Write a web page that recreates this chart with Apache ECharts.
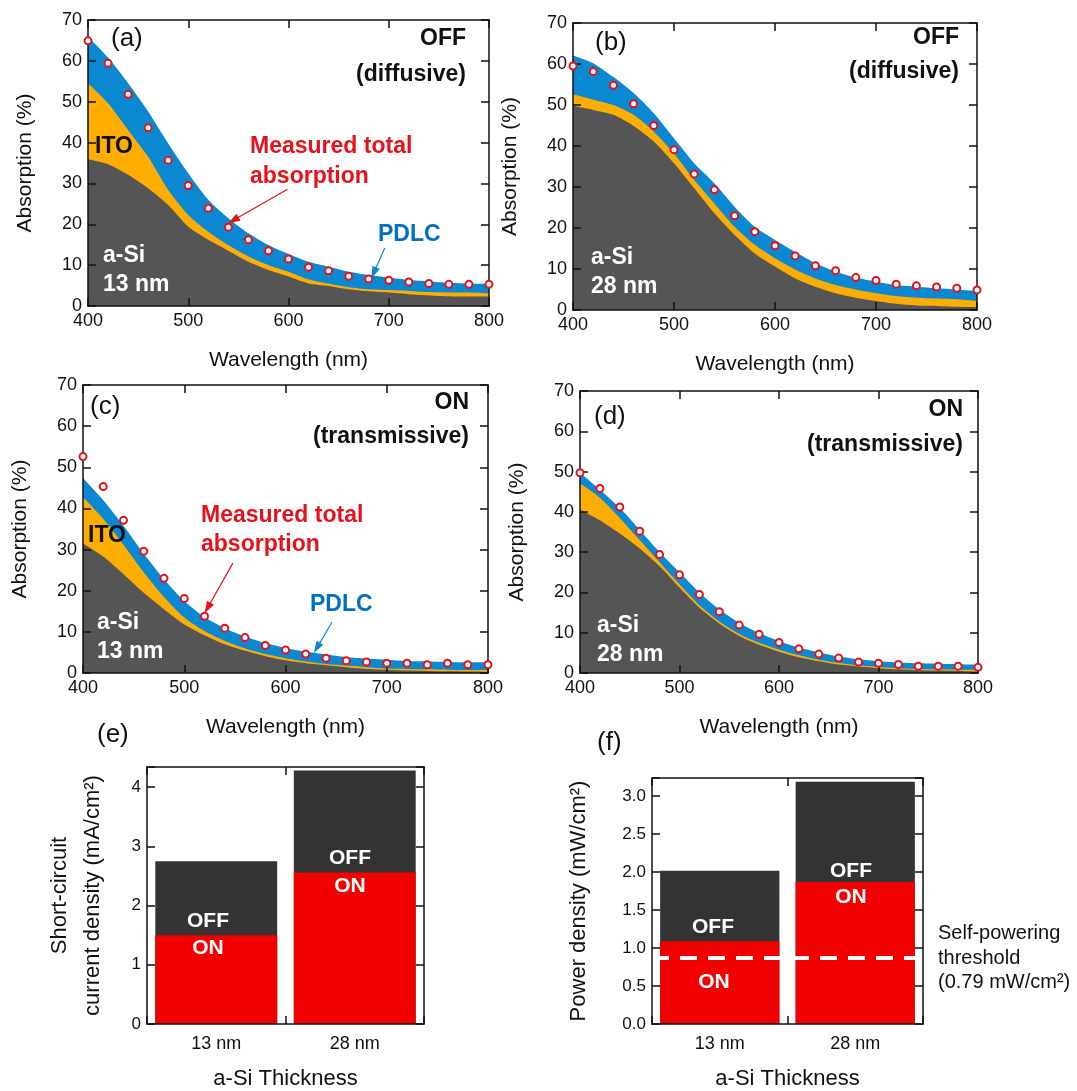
<!DOCTYPE html>
<html>
<head>
<meta charset="utf-8">
<script src="https://cdn.jsdelivr.net/npm/echarts@6/dist/echarts.min.js"></script>
<style>
  html, body { margin: 0; padding: 0; background: #fff; }
  #chart { width: 1077px; height: 1091px; }
</style>
</head>
<body>
<div id="chart"></div>
<script>
// wavelength grid of the spectra (nm)
const wavelength = [400, 420, 440, 460, 480, 500, 520, 540, 560, 580, 600, 620, 640, 660, 680, 700, 720, 740, 760, 780, 800];

// (a) OFF, a-Si 13 nm : upper edge of each layer + measured total (%)
const aTotal = [65.9, 60.8, 54.5, 47.6, 39.8, 32.5, 26.0, 21.5, 17.8, 14.9, 12.7, 10.8, 9.6, 8.4, 7.6, 7.0, 6.4, 6.0, 5.7, 5.5, 5.4];
const aIto = [54.5, 49.6, 43.1, 36.5, 28.4, 22.3, 18.2, 14.9, 12.1, 10.0, 8.4, 6.5, 5.5, 4.6, 4.1, 3.9, 3.7, 3.4, 3.3, 3.3, 3.1];
const aSi = [35.9, 34.7, 32.1, 28.8, 24.7, 19.4, 16.2, 13.5, 10.8, 8.8, 7.2, 5.5, 4.9, 4.1, 3.6, 3.3, 2.9, 2.6, 2.4, 2.3, 2.3];
const aMeas = [64.9, 59.4, 51.8, 43.6, 35.7, 29.5, 23.9, 19.3, 16.2, 13.5, 11.5, 9.5, 8.6, 7.3, 6.6, 6.3, 5.9, 5.5, 5.3, 5.3, 5.3];

// (b) OFF, a-Si 28 nm
const bTotal = [62.1, 60.2, 56.8, 52.9, 48.0, 41.9, 35.8, 30.9, 25.2, 20.3, 17.1, 14.2, 11.4, 9.4, 7.9, 6.9, 6.1, 5.7, 5.3, 5.0, 4.6];
const bIto = [52.6, 51.3, 50.0, 47.6, 43.5, 38.2, 31.7, 26.0, 20.3, 15.9, 12.6, 9.9, 7.7, 6.1, 5.0, 4.1, 3.4, 3.0, 2.8, 2.6, 2.2];
const bSi = [49.8, 48.8, 47.6, 44.9, 41.1, 35.8, 29.7, 23.6, 18.3, 13.8, 10.6, 7.7, 5.7, 4.1, 3.0, 2.2, 1.5, 1.1, 1.0, 0.8, 0.7];
const bMeas = [59.5, 58.2, 54.8, 50.3, 45.0, 39.1, 33.2, 29.3, 23.0, 19.1, 15.7, 13.2, 10.8, 9.6, 7.9, 7.2, 6.3, 5.9, 5.6, 5.3, 4.9];

// (c) ON, a-Si 13 nm
const cTotal = [47.4, 42.0, 35.8, 29.0, 22.8, 17.5, 13.6, 10.9, 8.9, 7.3, 6.1, 5.2, 4.5, 3.9, 3.5, 3.2, 2.9, 2.8, 2.7, 2.6, 2.6];
const cIto = [42.7, 37.5, 31.2, 24.5, 18.5, 13.5, 10.2, 7.8, 6.0, 4.6, 3.6, 2.8, 2.2, 1.8, 1.4, 1.1, 1.0, 0.9, 0.8, 0.7, 0.7];
const cSi = [31.5, 28.3, 24.0, 19.5, 15.5, 11.8, 9.2, 7.0, 5.4, 4.1, 3.1, 2.4, 1.9, 1.4, 1.0, 0.8, 0.6, 0.5, 0.4, 0.35, 0.3];
const cMeas = [52.6, 45.3, 37.1, 29.6, 23.0, 18.1, 13.8, 10.9, 8.6, 6.7, 5.6, 4.6, 3.6, 3.0, 2.7, 2.4, 2.4, 2.0, 2.4, 2.0, 2.0];

// (d) ON, a-Si 28 nm
const dTotal = [49.7, 45.5, 41.0, 35.5, 30.0, 25.0, 20.0, 15.8, 12.4, 9.9, 7.9, 6.3, 5.1, 4.1, 3.4, 2.9, 2.6, 2.4, 2.3, 2.2, 2.1];
const dIto = [47.1, 43.5, 38.5, 33.0, 27.5, 22.0, 16.8, 12.8, 9.7, 7.5, 5.8, 4.4, 3.3, 2.5, 1.9, 1.5, 1.2, 1.0, 0.9, 0.8, 0.8];
const dSi = [40.5, 37.9, 34.6, 30.9, 26.5, 21.2, 16.2, 12.3, 9.2, 7.0, 5.3, 3.9, 2.9, 2.1, 1.6, 1.2, 0.9, 0.7, 0.6, 0.5, 0.4];
const dMeas = [49.7, 45.8, 41.2, 35.2, 29.4, 24.4, 19.5, 15.2, 11.9, 9.6, 7.6, 6.0, 4.7, 3.7, 2.7, 2.4, 2.1, 1.7, 1.7, 1.7, 1.4];

// (e) short-circuit current density (mA/cm2), (f) power density (mW/cm2)
const thickness = ['13 nm', '28 nm'];
const jscOff = [2.75, 4.28];
const jscOn = [1.50, 2.56];
const powerOff = [2.02, 3.19];
const powerOn = [1.09, 1.87];
const threshold = 0.87;

const font = "'Liberation Sans', Arial, Helvetica, sans-serif";
const ink = '#111';
const blue = '#0A89D2';
const orange = '#FFAD00';
const gray = '#555555';
const red = '#E8101A';

const pair = (xs, ys) => xs.map((x, i) => [x, ys[i]]);

const spectra = [
  { total: aTotal, ito: aIto, si: aSi, meas: aMeas },
  { total: bTotal, ito: bIto, si: bSi, meas: bMeas },
  { total: cTotal, ito: cIto, si: cSi, meas: cMeas },
  { total: dTotal, ito: dIto, si: dSi, meas: dMeas },
];

// annotation arrows (data coords of panel)
const arrows = [
  { panel: 0, from: [599, 28.6], to: [545, 21.0], color: red },
  { panel: 0, from: [696, 14.2], to: [685, 8.1], color: blue },
  { panel: 2, from: [548, 26.7], to: [523, 15.8], color: red },
  { panel: 2, from: [646, 12.4], to: [631, 6.1], color: blue },
];

const grids = [
  { left: 88, top: 20, width: 401, height: 286 },
  { left: 573, top: 23, width: 404, height: 287 },
  { left: 83, top: 385, width: 405, height: 288 },
  { left: 580, top: 391, width: 398, height: 282 },
  { left: 147, top: 767, width: 277, height: 258 },
  { left: 652, top: 778, width: 271, height: 251 },
];

const axisLine = { show: true, onZero: false, lineStyle: { color: ink, width: 1.5 } };
const axisTick = { show: true, inside: true, length: 8, lineStyle: { color: ink, width: 1.5 } };
const noSplit = { show: false };

const xAxis = [];
const yAxis = [];
const series = [];

// spectra panels (a)-(d)
spectra.forEach((p, k) => {
  xAxis.push({
    gridIndex: k, type: 'value', min: 400, max: 800, interval: 100, z: 5,
    axisLine, axisTick, splitLine: noSplit,
    axisLabel: { fontSize: 18, color: ink, fontFamily: font, margin: 6 },
    name: 'Wavelength (nm)', nameLocation: 'middle', nameGap: 44,
    nameTextStyle: { fontSize: 21, color: ink, fontFamily: font },
  });
  xAxis.push({
    gridIndex: k, type: 'value', position: 'top', min: 400, max: 800, interval: 100, z: 5,
    axisLine, axisTick, splitLine: noSplit, axisLabel: { show: false },
  });
  yAxis.push({
    gridIndex: k, type: 'value', min: 0, max: 70, interval: 10, z: 5,
    axisLine, axisTick, splitLine: noSplit,
    axisLabel: { fontSize: 18, color: ink, fontFamily: font, margin: 6 },
    name: 'Absorption (%)', nameLocation: 'middle', nameGap: 52,
    nameTextStyle: { fontSize: 21, color: ink, fontFamily: font },
  });
  yAxis.push({
    gridIndex: k, type: 'value', position: 'right', min: 0, max: 70, interval: 10, z: 5,
    axisLine, axisTick, splitLine: noSplit, axisLabel: { show: false },
  });

  const ax = { xAxisIndex: 2 * k, yAxisIndex: 2 * k };
  const area = (data, color) => ({
    type: 'line', ...ax, data: pair(wavelength, data), smooth: 0.25,
    showSymbol: false, silent: true, lineStyle: { width: 0 },
    areaStyle: { color, opacity: 1 },
  });
  // back to front: PDLC, ITO, a-Si
  series.push(area(p.total, blue), area(p.ito, orange), area(p.si, gray));
  series.push({
    type: 'scatter', ...ax, data: pair(wavelength, p.meas), symbolSize: 7, clip: false, z: 10,
    itemStyle: { color: '#fff', borderColor: red, borderWidth: 2, opacity: 1 },
    markLine: {
      silent: true, animation: false, symbol: ['none', 'triangle'], symbolSize: [8, 12],
      label: { show: false },
      data: arrows.filter(a => a.panel === k).map(a => [
        { coord: a.from, lineStyle: { color: a.color, width: 1.2, type: 'solid' }, itemStyle: { color: a.color } },
        { coord: a.to },
      ]),
    },
  });
});

// bar panels (e), (f)
const bars = [
  { off: jscOff, on: jscOn, max: 4.34, interval: 1, digits: 0, name: '{t|Short-circuit}\n{t|current density (mA/cm²)}', gap: 38 },
  { off: powerOff, on: powerOn, max: 3.24, interval: 0.5, digits: 1, name: 'Power density (mW/cm²)', gap: 57 },
];

bars.forEach((b, j) => {
  const k = 4 + j;
  xAxis.push({
    gridIndex: k, type: 'category', data: thickness, z: 5,
    axisLine, axisTick: { ...axisTick, alignWithLabel: false }, splitLine: noSplit,
    axisLabel: { fontSize: 18, color: ink, fontFamily: font, margin: 11 },
    name: 'a-Si Thickness', nameLocation: 'middle', nameGap: 44,
    nameTextStyle: { fontSize: 22, color: ink, fontFamily: font },
  });
  xAxis.push({
    gridIndex: k, type: 'category', position: 'top', data: thickness, z: 5,
    axisLine, axisTick: { ...axisTick, alignWithLabel: false }, splitLine: noSplit,
    axisLabel: { show: false },
  });
  const step = b.interval;
  yAxis.push({
    gridIndex: k, type: 'value', min: 0, max: b.max, interval: step, z: 5,
    axisLine, axisTick, splitLine: noSplit,
    axisLabel: {
      fontSize: 17, color: ink, fontFamily: font, margin: 6,
      formatter: v => (Math.abs(v / step - Math.round(v / step)) < 1e-6 ? v.toFixed(b.digits) : ''),
    },
    name: b.name, nameLocation: 'middle', nameGap: b.gap,
    nameTextStyle: {
      fontSize: 22, color: ink, fontFamily: font, lineHeight: 33,
      rich: { t: { fontSize: 22, color: ink, fontFamily: font, lineHeight: 33 } },
    },
  });
  yAxis.push({
    gridIndex: k, type: 'value', position: 'right', min: 0, max: b.max, interval: step, z: 5,
    axisLine, axisTick, splitLine: noSplit, axisLabel: { show: false },
  });

  const ax = { xAxisIndex: 2 * k, yAxisIndex: 2 * k };
  series.push({
    type: 'bar', ...ax, data: b.off, barWidth: '88%', barGap: '-100%',
    itemStyle: { color: '#333333' }, silent: true,
  });
  const onBar = {
    type: 'bar', ...ax, data: b.on, barWidth: '88%', barGap: '-100%',
    itemStyle: { color: '#F20000' }, silent: true,
  };
  if (j === 1) {
    onBar.markLine = {
      silent: true, animation: false, symbol: 'none', label: { show: false },
      lineStyle: { color: '#fff', width: 4, type: [17, 11] },
      data: [{ yAxis: threshold }],
    };
  }
  series.push(onBar);
});

// text annotations
const txt = (x, y, text, o = {}) => ({
  type: 'text', x, y, silent: true, z: 100,
  style: {
    text, fill: o.color || ink, fontSize: o.size || 23, fontWeight: o.weight || 'bold',
    fontFamily: font, align: o.align || 'left', textAlign: o.align || 'left',
    verticalAlign: 'middle', textVerticalAlign: 'middle', lineHeight: o.lh,
  },
});
const panelTag = { size: 26, weight: 'normal' };
const white = { color: '#fff' };
const graphic = [
  // (a)
  txt(111, 39, '(a)', panelTag),
  txt(466, 39, 'OFF', { align: 'right' }),
  txt(466, 75, '(diffusive)', { align: 'right' }),
  txt(95, 147, 'ITO'),
  txt(250, 147, 'Measured total', { color: red }),
  txt(250, 177, 'absorption', { color: red }),
  txt(378, 235, 'PDLC', { color: '#0070C0' }),
  txt(103, 256, 'a-Si', white),
  txt(103, 285, '13 nm', white),
  // (b)
  txt(595, 43, '(b)', panelTag),
  txt(959, 38, 'OFF', { align: 'right' }),
  txt(959, 72, '(diffusive)', { align: 'right' }),
  txt(591, 258, 'a-Si', white),
  txt(591, 287, '28 nm', white),
  // (c)
  txt(90, 407, '(c)', panelTag),
  txt(469, 403, 'ON', { align: 'right' }),
  txt(469, 437, '(transmissive)', { align: 'right' }),
  txt(88, 536, 'ITO'),
  txt(201, 516, 'Measured total', { color: red }),
  txt(201, 545, 'absorption', { color: red }),
  txt(310, 605, 'PDLC', { color: '#0070C0' }),
  txt(97, 623, 'a-Si', white),
  txt(97, 652, '13 nm', white),
  // (d)
  txt(594, 417, '(d)', panelTag),
  txt(963, 410, 'ON', { align: 'right' }),
  txt(963, 445, '(transmissive)', { align: 'right' }),
  txt(597, 626, 'a-Si', white),
  txt(597, 655, '28 nm', white),
  // (e)
  txt(97, 735, '(e)', panelTag),
  txt(208, 921, 'OFF', { ...white, align: 'center', size: 21 }),
  txt(208, 948, 'ON', { ...white, align: 'center', size: 21 }),
  txt(350, 858, 'OFF', { ...white, align: 'center', size: 21 }),
  txt(350, 886, 'ON', { ...white, align: 'center', size: 21 }),
  // (f)
  txt(597, 743, '(f)', panelTag),
  txt(713, 927, 'OFF', { ...white, align: 'center', size: 21 }),
  txt(714, 982, 'ON', { ...white, align: 'center', size: 21 }),
  txt(851, 871, 'OFF', { ...white, align: 'center', size: 21 }),
  txt(851, 897, 'ON', { ...white, align: 'center', size: 21 }),
  txt(938, 958, 'Self-powering\nthreshold\n(0.79 mW/cm²)', { size: 20, weight: 'normal', lh: 24.5 }),
];

const chart = echarts.init(document.getElementById('chart'));
chart.setOption({
  animation: false,
  backgroundColor: '#fff',
  textStyle: { fontFamily: font },
  grid: grids,
  xAxis,
  yAxis,
  series,
  graphic,
});
</script>
</body>
</html>
